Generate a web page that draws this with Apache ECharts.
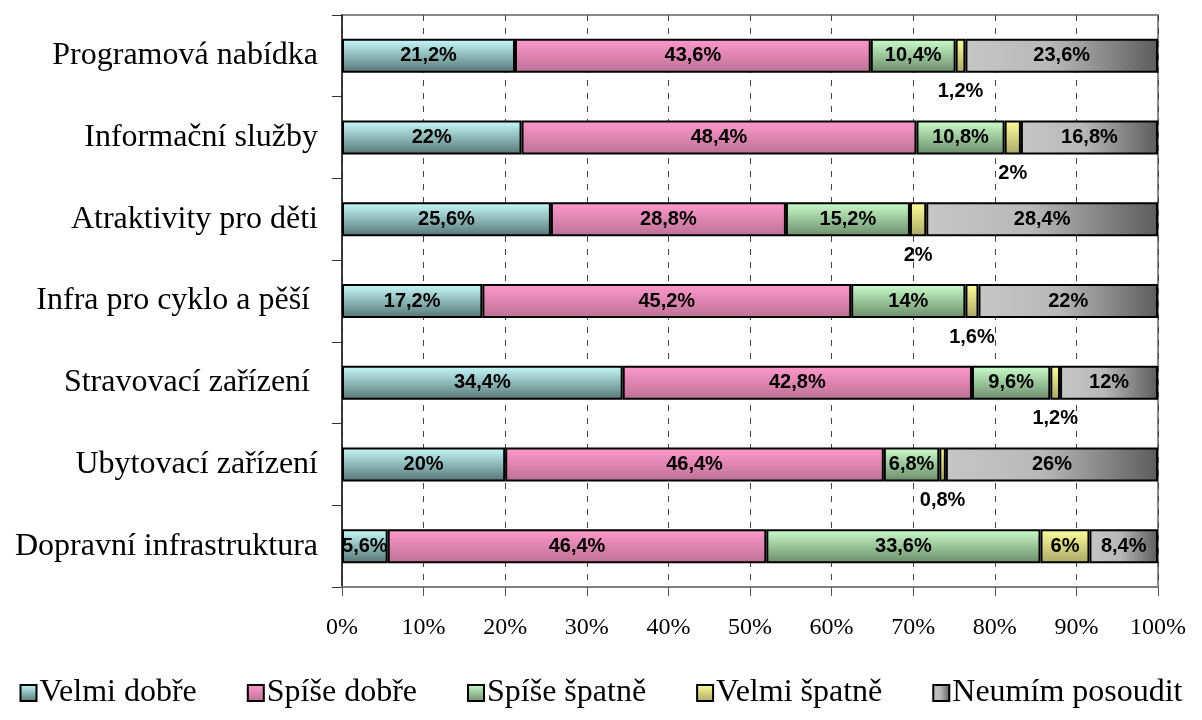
<!DOCTYPE html>
<html>
<head>
<meta charset="utf-8">
<script src="https://cdn.jsdelivr.net/npm/echarts@6/dist/echarts.min.js"></script>
<style>
html,body{margin:0;padding:0;background:#fff;}
#chart{width:1202px;height:720px;}
</style>
</head>
<body>
<div id="chart"></div>
<script>
const categories = [
  "Programová nabídka",
  "Informační služby",
  "Atraktivity pro děti",
  "Infra pro cyklo a pěší ",
  "Stravovací zařízení ",
  "Ubytovací zařízení",
  "Dopravní infrastruktura"
];
const seriesNames = ["Velmi dobře", "Spíše dobře", "Spíše špatně", "Velmi špatně", "Neumím posoudit"];
const velmiDobre    = [21.2, 22,   25.6, 17.2, 34.4, 20,   5.6];
const spiseDobre    = [43.6, 48.4, 28.8, 45.2, 42.8, 46.4, 46.4];
const spiseSpatne   = [10.4, 10.8, 15.2, 14,   9.6,  6.8,  33.6];
const velmiSpatne   = [1.2,  2,    2,    1.6,  1.2,  0.8,  6];
const neumimPosoudit= [23.6, 16.8, 28.4, 22,   12,   26,   8.4];
const xTicks = [0, 10, 20, 30, 40, 50, 60, 70, 80, 90, 100];

const values = [velmiDobre, spiseDobre, spiseSpatne, velmiSpatne, neumimPosoudit];

function vgrad(top, bottom) {
  return new echarts.graphic.LinearGradient(0, 0, 0, 1, [
    {offset: 0, color: top}, {offset: 1, color: bottom}
  ]);
}
const fills = [
  vgrad('#c8fcfc', '#557474'),
  vgrad('#ff9acc', '#bc7094'),
  vgrad('#ccfecc', '#6a8c6a'),
  vgrad('#ffff9c', '#aaa866'),
  new echarts.graphic.LinearGradient(0, 0, 1, 0, [
    {offset: 0, color: '#c6c6c6'},
    {offset: 0.45, color: '#b8b8b8'},
    {offset: 1, color: '#5c5c5c'}
  ])
];

function fmt(v) { return String(v).replace('.', ',') + '%'; }

const labelBase = {
  show: true,
  color: '#000',
  fontFamily: 'Liberation Sans, Arial, sans-serif',
  fontWeight: 'bold',
  fontSize: 20,
  formatter: p => fmt(p.value)
};

const series = seriesNames.map((name, i) => ({
  name: name,
  type: 'bar',
  stack: 'total',
  barWidth: 34,
  itemStyle: {color: fills[i], borderColor: '#000', borderWidth: 2},
  label: Object.assign({position: 'inside'}, labelBase),
  emphasis: {disabled: true},
  data: values[i].map(v => {
    if (i === 3 && v < 3) {
      return {value: v, label: {position: 'bottom', distance: 9}};
    }
    return v;
  })
}));

const chart = echarts.init(document.getElementById('chart'));
chart.setOption({
  animation: false,
  backgroundColor: '#fff',
  grid: {
    left: 342, right: 44, top: 15, bottom: 133,
    show: true, borderColor: '#8a8a8a', borderWidth: 2
  },
  legend: {
    data: seriesNames,
    left: 'center',
    top: 672,
    icon: 'rect',
    itemWidth: 16,
    itemHeight: 16,
    itemGap: 50,
    textStyle: {
      fontFamily: 'Liberation Serif, Times New Roman, serif',
      fontSize: 32,
      color: '#000',
      padding: [0, 0, 0, -2]
    }
  },
  xAxis: {
    type: 'value',
    min: xTicks[0],
    max: xTicks[xTicks.length - 1],
    interval: xTicks[1] - xTicks[0],
    axisLine: {show: true, lineStyle: {color: '#808080', width: 2}},
    axisTick: {show: true, length: 9, lineStyle: {color: '#555', width: 1}},
    axisLabel: {
      formatter: '{value}%',
      margin: 29,
      fontFamily: 'Liberation Serif, Times New Roman, serif',
      fontSize: 24,
      color: '#000'
    },
    splitLine: {show: true, lineStyle: {color: '#444', type: [6, 7], width: 1}}
  },
  yAxis: {
    type: 'category',
    inverse: true,
    data: categories,
    axisLine: {show: true, lineStyle: {color: '#222', width: 1.5}},
    axisTick: {show: true, length: 10, lineStyle: {color: '#333', width: 1}},
    axisLabel: {
      margin: 24,
      fontFamily: 'Liberation Serif, Times New Roman, serif',
      fontSize: 32,
      color: '#000'
    }
  },
  series: series
});
</script>
</body>
</html>
